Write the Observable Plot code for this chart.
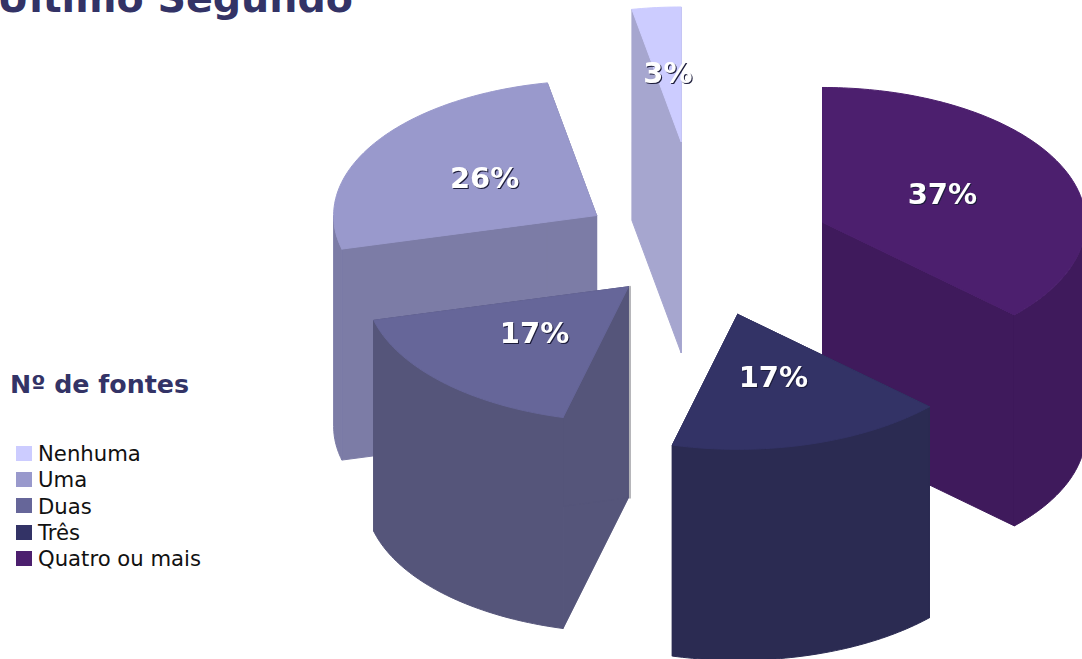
<!DOCTYPE html>
<html lang="pt">
<head>
<meta charset="utf-8">
<script src="https://cdn.jsdelivr.net/npm/d3@7"></script>
<script src="https://cdn.jsdelivr.net/npm/@observablehq/plot@0.6"></script>
<style>
html,body{margin:0;padding:0;background:#fff;overflow:hidden}
#wrap{position:relative;width:1082px;height:659px;overflow:hidden}
#title{position:absolute;left:-3px;top:-25px;font:bold 39.6px "DejaVu Sans";color:#333366;white-space:nowrap}
#legendTitle{position:absolute;left:10px;top:370px;font:bold 25.3px "DejaVu Sans";color:#333366;white-space:nowrap}
#legend{position:absolute;left:16px;top:441px;font:21.2px/26.5px "DejaVu Sans";color:#111}
#legend div{display:flex;align-items:center;white-space:nowrap;height:26.3px}
#legend i{display:inline-block;width:16px;height:15px;margin-right:6px;position:relative;top:-1px}
svg{position:absolute;left:0;top:0}
svg g[aria-label="text"]{filter:drop-shadow(1px 1px 0 #1c1c3a)}
</style>
</head>
<body>
<div id="wrap">
<div id="title">Último Segundo</div>
<div id="legendTitle">Nº de fontes</div>
<div id="legend"></div>
</div>
<script>
const categories = ["Nenhuma", "Uma", "Duas", "Três", "Quatro ou mais"];
const shares = [3, 26, 17, 17, 37];
const explosion = [0.8, 0.47, 0.39, 0.5, 0.504];
const topColors = ["#ccccff", "#9999cc", "#666699", "#333366", "#4c1f6e"];
const wallColors = ["#a6a6cf", "#7c7ca6", "#55557a", "#2b2b52", "#3f1a5c"];
const drawOrder = ["Nenhuma", "Uma", "Quatro ou mais", "Duas", "Três"];
// Pie order runs clockwise from 12 o'clock, starting with the last category
const pieOrder = ["Quatro ou mais", "Três", "Duas", "Uma", "Nenhuma"];

const pxX = 263, pxY = 135, depth = 211 / pxY;
const cx = 700.5, cy = 249;

let acc = 0;
const slices = new Map();
for (const name of pieOrder) {
  const i = categories.indexOf(name);
  const a0 = acc / 100 * 2 * Math.PI;
  acc += shares[i];
  const a1 = acc / 100 * 2 * Math.PI;
  const m = (a0 + a1) / 2;
  const ox = explosion[i] * Math.sin(m), oy = -explosion[i] * Math.cos(m);
  slices.set(name, {name, i, a0, a1, m, ox, oy, share: shares[i]});
}
const pt = (s, a, r, d = 0) => ({x: s.ox + r * Math.sin(a), y: s.oy - r * Math.cos(a) + d});
const arc = (s, from, to, d = 0) => {
  const n = Math.max(4, Math.ceil((to - from) / 0.02));
  return d3.range(n + 1).map(k => pt(s, from + (to - from) * k / n, 1, d));
};
const closed = poly => [...poly, poly[0]];

const marks = [];
for (const name of drawOrder) {
  const s = slices.get(name);
  const wall = wallColors[s.i], top = topColors[s.i];
  const inner0 = [pt(s, 0, 0), pt(s, s.a0, 1), pt(s, s.a0, 1, depth), pt(s, 0, 0, depth)];
  const inner1 = [pt(s, 0, 0), pt(s, s.a1, 1), pt(s, s.a1, 1, depth), pt(s, 0, 0, depth)];
  const polys = [inner0, inner1];
  // only the front half of the rim is visible
  const from = Math.max(s.a0, Math.PI / 2), to = Math.min(s.a1, 3 * Math.PI / 2);
  if (to > from) polys.push([...arc(s, from, to), ...arc(s, from, to, depth).reverse()]);
  for (const poly of polys)
    marks.push(Plot.line(closed(poly), {x: "x", y: "y", fill: wall, stroke: wall, strokeWidth: 1}));
  marks.push(Plot.line(closed(arc(s, s.a0, s.a1).concat([pt(s, 0, 0)])), {x: "x", y: "y", fill: top, stroke: top, strokeWidth: 1}));
  if (name === "Duas")
    marks.push(Plot.line([pt(s, 0, 0), pt(s, 0, 0, depth)], {x: "x", y: "y", stroke: "#b4b4b8", strokeWidth: 2, dx: 1.5}));
}
const labels = pieOrder.map(name => {
  const s = slices.get(name);
  return {...pt(s, s.m, 0.5), t: s.share + "%"};
});
marks.push(Plot.text(labels, {
  x: "x", y: "y", text: "t", fill: "white", dx: -1, dy: -1,
  fontFamily: "DejaVu Sans", fontWeight: "bold", fontSize: 29
}));

const chart = Plot.plot({
  width: 1082, height: 659,
  marginTop: 0, marginRight: 0, marginBottom: 0, marginLeft: 0,
  x: {axis: null, domain: [-cx / pxX, (1082 - cx) / pxX], range: [0, 1082]},
  y: {axis: null, domain: [-cy / pxY, (659 - cy) / pxY], range: [0, 659]},
  marks
});
const wrap = document.getElementById("wrap");
wrap.insertBefore(chart, wrap.firstChild);

const legend = document.getElementById("legend");
categories.forEach((c, i) => {
  const row = document.createElement("div");
  const sw = document.createElement("i");
  sw.style.background = topColors[i];
  row.append(sw, document.createTextNode(c));
  legend.append(row);
});
</script>
</body>
</html>
